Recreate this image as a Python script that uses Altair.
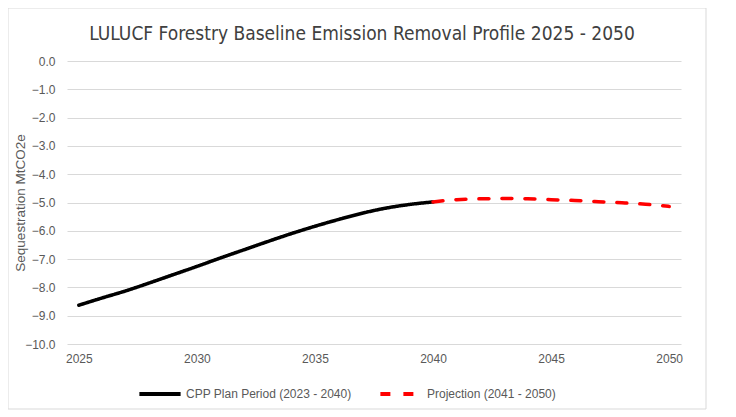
import altair as alt
import pandas as pd

cpp_years = list(range(2025, 2041))
cpp_values = [-8.63, -8.37, -8.12, -7.84, -7.55, -7.26, -6.96, -6.67, -6.38,
              -6.10, -5.84, -5.60, -5.38, -5.20, -5.07, -4.98]
proj_years = list(range(2040, 2051))
proj_values = [-4.98, -4.90, -4.87, -4.86, -4.87, -4.90, -4.93, -4.97, -5.01, -5.06, -5.14]
series_names = ["CPP Plan Period (2023 - 2040)", "Projection (2041 - 2050)"]
x_ticks = [2025, 2030, 2035, 2040, 2045, 2050]
y_ticks = [0, -1, -2, -3, -4, -5, -6, -7, -8, -9, -10]

df = pd.DataFrame(
    [{"year": y, "value": v, "series": series_names[0]} for y, v in zip(cpp_years, cpp_values)]
    + [{"year": y, "value": v, "series": series_names[1]} for y, v in zip(proj_years, proj_values)]
)

W, H = 614, 283
PAD_L, PAD_T = 59, 53

lines = alt.Chart(df).mark_line(strokeWidth=3.5, strokeCap="round", interpolate="monotone").encode(
    x=alt.X("year:Q",
            scale=alt.Scale(domain=[2024.5, 2050.5], nice=False, zero=False),
            axis=alt.Axis(values=x_ticks, format="d", grid=False, domain=False, ticks=False,
                          labelPadding=9, labelFontSize=12, labelColor="#595959",
                          labelFont="Liberation Sans", title=None)),
    y=alt.Y("value:Q",
            scale=alt.Scale(domain=[-10, 0], nice=False),
            axis=alt.Axis(values=y_ticks, format=".1f", grid=True, gridColor="#d9d9d9",
                          domain=False, ticks=False, labelPadding=12, labelFontSize=12,
                          labelColor="#595959", labelFont="Liberation Sans",
                          title="Sequestration MtCO2e", titleFontSize=13.5,
                          titleFont="Liberation Sans", titleColor="#595959",
                          titleFontWeight="normal", titleX=-40, titleY=H / 2)),
    color=alt.Color("series:N",
                    scale=alt.Scale(domain=series_names, range=["#000000", "#ff0000"]),
                    legend=alt.Legend(orient="none", legendX=70, legendY=310, direction="horizontal",
                                      columns=2, title=None, symbolType="stroke",
                                      symbolSize=1700, symbolStrokeWidth=4, labelFontSize=12,
                                      labelFont="Liberation Sans", labelColor="#595959",
                                      labelOffset=3, columnPadding=20, labelLimit=400,
                                      symbolDash=[1, 0])),
    strokeDash=alt.StrokeDash("series:N",
                              scale=alt.Scale(domain=series_names, range=[[1, 0], [10, 13]]),
                              legend=None),
    detail="series:N",
)

frame = alt.Chart(pd.DataFrame({"a": [0]})).mark_rect(
    fill=None, stroke="#d9d9d9", strokeWidth=1, clip=False
).encode(
    x=alt.value(-PAD_L), x2=alt.value(639), y=alt.value(-PAD_T), y2=alt.value(348)
)

chart = alt.layer(frame, lines).properties(
    width=W, height=H,
    autosize=alt.AutoSizeParams(type="none"),
    padding={"left": PAD_L, "top": PAD_T, "right": 30, "bottom": 70},
    title=alt.Title("LULUCF Forestry Baseline Emission Removal Profile 2025 - 2050",
                    font="DejaVu Sans Condensed, Liberation Sans", fontSize=19, fontWeight="normal",
                    color="#404040", anchor="middle", dx=-12, offset=0, dy=36),
).configure_view(stroke=None)

chart.save("out.html", embed_options={"renderer": "svg", "actions": False})
